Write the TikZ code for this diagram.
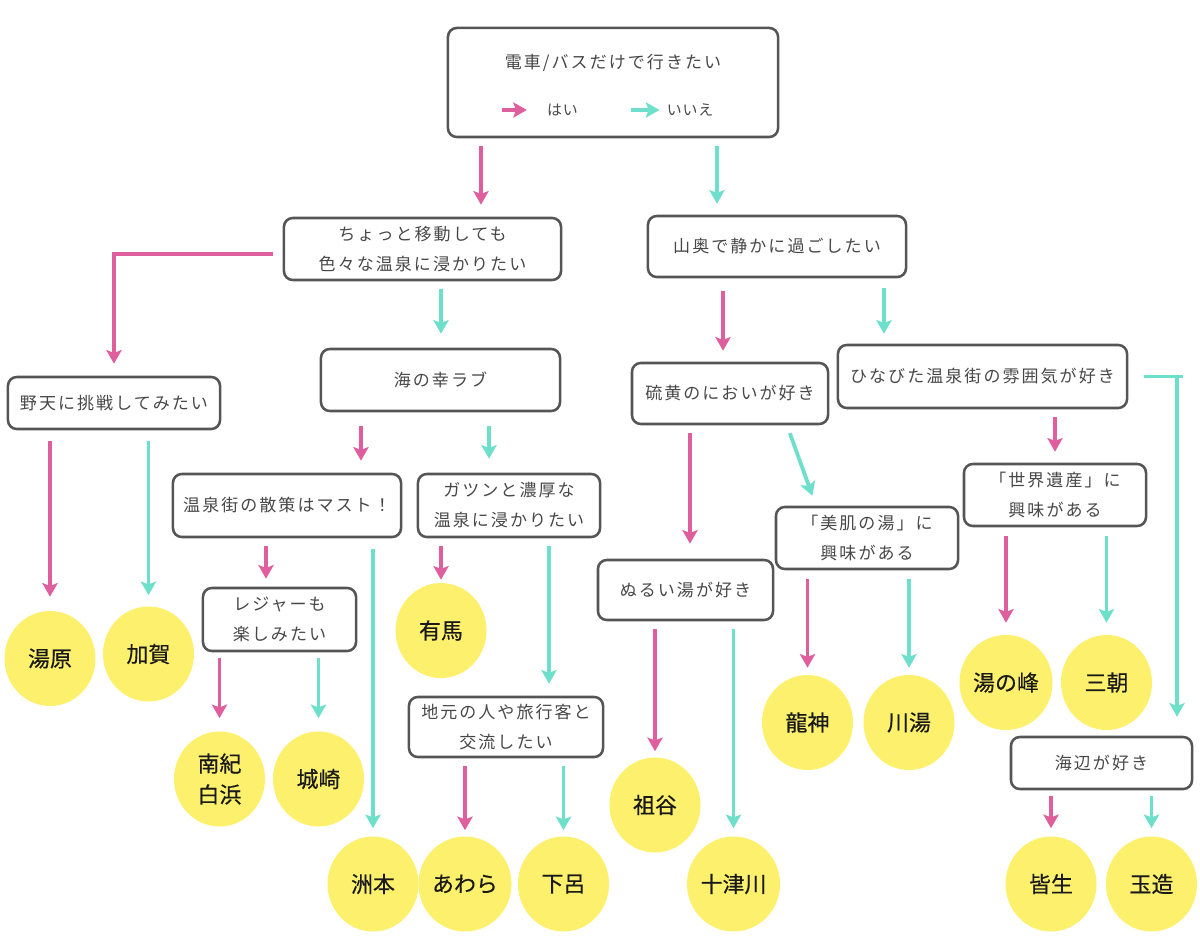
\documentclass[tikz,border=0pt]{standalone}
\usepackage{fontspec}
\newfontfamily\qfont[LetterSpace=12]{Noto Sans CJK JP}
\newfontfamily\legendfont[LetterSpace=6]{Noto Sans CJK JP}
\newfontfamily\spotfont[FakeBold=0.4]{Noto Sans CJK JP}
\usetikzlibrary{arrows.meta,shapes.geometric}
\definecolor{yespink}{HTML}{DE5E9E}
\definecolor{noteal}{HTML}{6EDFCB}
\definecolor{spotyellow}{HTML}{FCF06C}
\definecolor{boxgray}{HTML}{555555}
\definecolor{textgray}{HTML}{474747}
\tikzset{
  qbox/.style={draw=boxgray, line width=1.8pt, rounded corners=0.22cm, inner sep=0pt,
    align=center, text=textgray, font=\qfont\fontsize{12.1pt}{21.3pt}\selectfont},
  spot/.style={ellipse, fill=spotyellow, inner sep=0pt, minimum width=2.275cm,
    minimum height=2.375cm, align=center, text=black!90,
    font=\spotfont\fontsize{15.6pt}{22pt}\selectfont},
  yesarrow/.style={draw=yespink, line width=2.7pt,
    -{Stealth[length=0.34cm,width=0.38cm,inset=0.07cm]}, shorten <=0.2cm, shorten >=0.3cm},
  noarrow/.style={draw=noteal, line width=2.7pt,
    -{Stealth[length=0.34cm,width=0.38cm,inset=0.07cm]}, shorten <=0.2cm, shorten >=0.3cm}
}
\begin{document}
\begin{tikzpicture}[x=0.025cm, y=-0.025cm]
\useasboundingbox (0,0) rectangle (1200,937);

% start box with legend
\node[qbox, minimum width=8.25cm, minimum height=2.725cm] (start) at (613,82.5) {};
\node[text=textgray, font=\qfont\fontsize{12.1pt}{14pt}\selectfont] (startq) at (613,63) {電車/バスだけで行きたい};
\node[inner sep=0pt, text=textgray, font=\legendfont\fontsize{10.6pt}{12pt}\selectfont] (yeslbl) at (562.5,110) {はい};
\node[inner sep=0pt, text=textgray, font=\legendfont\fontsize{10.6pt}{12pt}\selectfont] (nolbl) at (690,110) {いいえ};
\draw[yesarrow, shorten <=0pt, shorten >=0pt] ([xshift=-1.125cm]yeslbl.west) -- ([xshift=-0.5cm]yeslbl.west);
\draw[noarrow, shorten <=0pt, shorten >=0pt] ([xshift=-0.875cm]nolbl.west) -- ([xshift=-0.175cm]nolbl.west);

% questions
\node[qbox, minimum width=6.925cm, minimum height=1.55cm] (move) at (422.5,249) {ちょっと移動しても\\色々な温泉に浸かりたい};
\node[qbox, minimum width=6.45cm, minimum height=1.525cm] (yama) at (777,246.5) {山奥で静かに過ごしたい};
\node[qbox, minimum width=5.3cm, minimum height=1.3cm] (noten) at (114,403) {野天に挑戦してみたい};
\node[qbox, minimum width=5.975cm, minimum height=1.55cm] (umi) at (440.5,380) {海の幸ラブ};
\node[qbox, minimum width=4.9cm, minimum height=1.525cm] (iou) at (730,393.5) {硫黄のにおいが好き};
\node[qbox, minimum width=7.225cm, minimum height=1.575cm] (hinabita) at (982.5,376.5) {ひなびた温泉街の雰囲気が好き};
\node[qbox, minimum width=5.7cm, minimum height=1.575cm] (sanpo) at (287,505.5) {温泉街の散策はマスト！};
\node[qbox, minimum width=4.55cm, minimum height=1.575cm] (gatsun) at (509,505.5) {ガツンと濃厚な\\温泉に浸かりたい};
\node[qbox, minimum width=3.825cm, minimum height=1.575cm] (leisure) at (279.5,619.5) {レジャーも\\楽しみたい};
\node[qbox, minimum width=4.85cm, minimum height=1.5cm] (koryu) at (506,727) {地元の人や旅行客と\\交流したい};
\node[qbox, minimum width=4.375cm, minimum height=1.5cm] (nurui) at (685.5,590) {ぬるい湯が好き};
\node[qbox, minimum width=4.55cm, minimum height=1.55cm] (bihada) at (867,538) {「美肌の湯」に\\興味がある};
\node[qbox, minimum width=4.55cm, minimum height=1.55cm] (sekai) at (1055,495) {「世界遺産」に\\興味がある};
\node[qbox, minimum width=4.525cm, minimum height=1.3cm] (umibe) at (1101.5,763) {海辺が好き};

% hot springs
\node[spot] (yubara) at (50,658.5) {湯原};
\node[spot] (kaga) at (148.5,654) {加賀};
\node[spot] (arima) at (441,630.5) {有馬};
\node[spot] (nanki) at (219.5,779) {南紀\\白浜};
\node[spot] (kinosaki) at (318.5,779) {城崎};
\node[spot] (sumoto) at (373,884) {洲本};
\node[spot] (awara) at (465,884) {あわら};
\node[spot] (gero) at (563.5,884) {下呂};
\node[spot] (iya) at (655,805) {祖谷};
\node[spot] (totsukawa) at (733.5,884) {十津川};
\node[spot] (ryujin) at (807.5,722.5) {龍神};
\node[spot] (kawayu) at (909,722.5) {川湯};
\node[spot] (yunomine) at (1006,682.5) {湯の峰};
\node[spot] (misasa) at (1106.5,682.5) {三朝};
\node[spot] (kaike) at (1051,884) {皆生};
\node[spot] (tamatsukuri) at (1151.5,884) {玉造};

% yes / no arrows
\draw[yesarrow] (start.south -| 481,0) -- (move.north -| 481,0);
\draw[noarrow, shorten >=0.275cm] (start.south -| 717,0) -- (yama.north -| 717,0);
\draw[yesarrow, shorten <=0.25cm] (move.west |- 0,254) -| (noten.north);
\draw[noarrow, shorten >=0.35cm] (move.south -| 441,0) -- (umi.north -| 441,0);
\draw[yesarrow, shorten <=0.325cm, shorten >=0.275cm] (yama.south -| 723,0) -- (iou.north -| 723,0);
\draw[noarrow, shorten <=0.25cm, shorten >=0.25cm] (yama.south -| 884,0) -- (hinabita.north -| 884,0);
\coordinate (tcorner) at (hinabita.east -| 1177,0);
\draw[noarrow, -, shorten <=0.4cm, shorten >=-0.15cm] (hinabita.east) -- (tcorner);
\draw[noarrow, shorten <=0pt, shorten >=0.475cm] (tcorner) -- (umibe.north -| tcorner);

\draw[yesarrow, shorten <=0.275cm, shorten >=0.35cm] (noten.south -| yubara.north) -- (yubara.north);
\draw[noarrow, shorten <=0.275cm, shorten >=0.275cm] (noten.south -| kaga.north) -- (kaga.north);
\draw[yesarrow, shorten <=0.35cm] (umi.south -| 361,0) -- (sanpo.north -| 361,0);
\draw[noarrow, shorten <=0.35cm, shorten >=0.35cm] (umi.south -| 489,0) -- (gatsun.north -| 489,0);
\draw[yesarrow, shorten >=0.2cm] (sanpo.south -| 266,0) -- (leisure.north -| 266,0);
\draw[noarrow, shorten <=0.275cm, shorten >=0.2cm] (sanpo.south -| sumoto.north) -- (sumoto.north);
\draw[yesarrow, shorten >=0.075cm] (gatsun.south -| arima.north) -- (arima.north);
\draw[noarrow] (gatsun.south -| 549,0) -- (koryu.north -| 549,0);
\draw[yesarrow, shorten <=0.15cm, shorten >=0.325cm] (leisure.south -| nanki.north) -- (nanki.north);
\draw[noarrow, shorten <=0.15cm, shorten >=0.325cm] (leisure.south -| kinosaki.north) -- (kinosaki.north);
\draw[yesarrow, shorten >=0.15cm] (koryu.south -| awara.north) -- (awara.north);
\draw[noarrow, shorten >=0.15cm] (koryu.south -| gero.north) -- (gero.north);

\draw[yesarrow, shorten >=0.375cm] (iou.south -| 690,0) -- (nurui.north -| 690,0);
\draw[noarrow, shorten <=0.21cm, shorten >=0.265cm] (iou.south -| 787,0) -- (bihada.north -| 816,0);
\draw[yesarrow, shorten >=0.15cm] (nurui.south -| iya.north) -- (iya.north);
\draw[noarrow, shorten >=0.2cm] (nurui.south -| totsukawa.north) -- (totsukawa.north);
\draw[yesarrow, shorten <=0.225cm, shorten >=0.175cm] (bihada.south -| ryujin.north) -- (ryujin.north);
\draw[noarrow, shorten <=0.225cm, shorten >=0.175cm] (bihada.south -| kawayu.north) -- (kawayu.north);
\draw[yesarrow, shorten >=0.275cm] (hinabita.south -| 1055,0) -- (sekai.north -| 1055,0);
\draw[yesarrow, shorten <=0.225cm] (sekai.south -| yunomine.north) -- (yunomine.north);
\draw[noarrow, shorten <=0.225cm] (sekai.south -| misasa.north) -- (misasa.north);
\draw[yesarrow, shorten <=0.15cm, shorten >=0.2cm] (umibe.south -| kaike.north) -- (kaike.north);
\draw[noarrow, shorten <=0.15cm, shorten >=0.2cm] (umibe.south -| tamatsukuri.north) -- (tamatsukuri.north);
\end{tikzpicture}
\end{document}
